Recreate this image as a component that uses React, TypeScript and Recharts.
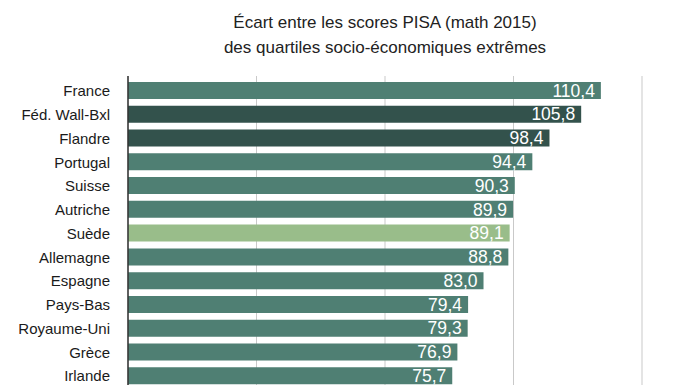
import React from 'react';
import { BarChart, Bar, XAxis, YAxis, CartesianGrid, Cell, LabelList } from 'recharts';

const countries = [
    'France', 'Féd. Wall-Bxl', 'Flandre', 'Portugal', 'Suisse', 'Autriche', 'Suède',
    'Allemagne', 'Espagne', 'Pays-Bas', 'Royaume-Uni', 'Grèce', 'Irlande'
];
const gaps = [110.4, 105.8, 98.4, 94.4, 90.3, 89.9, 89.1, 88.8, 83.0, 79.4, 79.3, 76.9, 75.7];
const xTicks = [0, 30, 60, 90, 120];

const BASE = '#4F7F73';
const DARK = '#33524C';
const LIGHT = '#99BD8A';
const highlight: Record<string, string> = {
    'Féd. Wall-Bxl': DARK,
    'Flandre': DARK,
    'Suède': LIGHT,
};

const FONT = '"Liberation Sans", Arial, sans-serif';

export default function App() {
    const chartData = countries.map((name, i) => ({ name, gap: gaps[i] }));

    return (
        <div style={{ position: 'absolute', left: 0, top: 0, width: 692, height: 385, overflow: 'hidden', background: '#fff', fontFamily: FONT }}>
            <div
                style={{
                    position: 'absolute',
                    left: 128,
                    width: 514,
                    top: 10,
                    textAlign: 'center',
                    fontSize: 17,
                    lineHeight: '25px',
                    color: '#222',
                }}
            >
                Écart entre les scores PISA (math 2015)
                <br />
                des quartiles socio-économiques extrêmes
            </div>
            <BarChart
                width={692}
                height={392}
                data={chartData}
                layout="vertical"
                margin={{ top: 76, right: 50, left: 0, bottom: 4 }}
            >
                <CartesianGrid horizontal={false} stroke="#c9c9c9" />
                <XAxis type="number" domain={[0, 120]} ticks={xTicks} hide />
                <YAxis
                    type="category"
                    dataKey="name"
                    width={128}
                    padding={{ top: 3, bottom: 0 }}
                    tickLine={false}
                    tickSize={0}
                    tickMargin={18}
                    axisLine={{ stroke: '#333', strokeWidth: 1.5 }}
                    tick={{ fill: '#1a1a1a', fontSize: 15, fontFamily: FONT }}
                    interval={0}
                />
                <Bar dataKey="gap" barSize={17} isAnimationActive={false}>
                    {chartData.map((d) => (
                        <Cell key={d.name} fill={highlight[d.name] || BASE} />
                    ))}
                    <LabelList
                        dataKey="gap"
                        position="insideRight"
                        offset={6}
                        fill="#fff"
                        fontSize={17.5}
                        fontFamily={FONT}
                        formatter={(v: any) => Number(v).toFixed(1).replace('.', ',')}
                    />
                </Bar>
            </BarChart>
        </div>
    );
}
